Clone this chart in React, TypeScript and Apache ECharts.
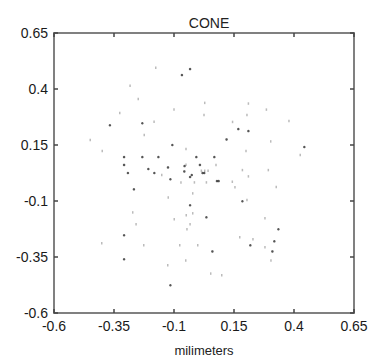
import React, { useEffect, useRef } from "react";
import * as echarts from "echarts";

const tickValues = [-0.6, -0.35, -0.1, 0.15, 0.4, 0.65];
const tickLabels = ["-0.6", "-0.35", "-0.1", "0.15", "0.4", "0.65"];

const darkPoints: [number, number][] = [
  [-0.033, 0.489], [-0.067, 0.462], [-0.367, 0.238], [-0.232, 0.247],
  [0.168, 0.221], [0.21, 0.212], [0.119, 0.175], [-0.107, 0.15],
  [0.443, 0.141], [-0.308, 0.096], [-0.232, 0.096], [-0.165, 0.096],
  [-0.007, 0.096], [0.068, 0.096], [-0.308, 0.061], [-0.125, 0.05],
  [-0.056, 0.056], [0.008, 0.061], [-0.292, 0.025], [-0.207, 0.043],
  [-0.182, 0.025], [-0.057, 0.032], [0.019, 0.025], [0.026, 0.025],
  [-0.026, 0.016], [-0.033, 0.007], [-0.115, -0.003], [0.079, -0.011],
  [0.086, -0.011], [-0.267, -0.048], [-0.033, -0.119], [0.185, -0.101],
  [0.035, -0.173], [0.335, -0.226], [-0.308, -0.253], [0.318, -0.28],
  [0.218, -0.298], [0.06, -0.325], [0.31, -0.325], [-0.308, -0.36],
  [-0.115, -0.476],
];

const lightPoints: [number, number][] = [
  [-0.176, 0.495], [-0.283, 0.415], [-0.249, 0.355], [-0.1, 0.309],
  [0.028, 0.338], [0.025, 0.284], [0.21, 0.335], [0.204, 0.284],
  [0.285, 0.308], [0.379, 0.257], [-0.326, 0.293], [-0.183, 0.254],
  [0.144, 0.253], [-0.224, 0.195], [-0.449, 0.172], [0.303, 0.166],
  [-0.399, 0.123], [-0.05, 0.132], [0.2, 0.123], [0.426, 0.105],
  [-0.05, 0.062], [0.075, 0.061], [-0.151, 0.016], [0.014, 0.035],
  [0.028, 0.035], [0.042, 0.035], [0.185, 0.038], [0.293, 0.038],
  [0.21, 0.01], [-0.071, -0.017], [-0.015, -0.017], [0.035, -0.017],
  [0.143, -0.014], [0.154, -0.039], [0.326, -0.037], [-0.022, -0.066],
  [-0.124, -0.084], [0.204, -0.096], [-0.272, -0.151], [-0.022, -0.155],
  [-0.049, -0.164], [-0.099, -0.182], [0.279, -0.177], [-0.258, -0.204],
  [-0.033, -0.204], [-0.046, -0.226], [0.174, -0.262], [0.229, -0.271],
  [-0.401, -0.289], [-0.226, -0.298], [-0.076, -0.298], [-0.001, -0.298],
  [0.279, -0.307], [-0.051, -0.366], [0.304, -0.366], [-0.126, -0.387],
  [0.053, -0.424], [0.099, -0.432],
];

const FONT = "'Liberation Sans', Arial, sans-serif";

function fmt(v: number): string {
  const i = tickValues.findIndex((t) => Math.abs(t - v) < 1e-9);
  return i >= 0 ? tickLabels[i] : "";
}

export default function App() {
  const ref = useRef<HTMLDivElement>(null);
  useEffect(() => {
    if (!ref.current) return;
    const chart = echarts.init(ref.current, undefined, { renderer: "svg" });
    const lineStyle = { color: "#808080", width: 2 };
    const tickStyle = { color: "#444", width: 1.5 };
    const baseAxis = {
      type: "value" as const,
      min: -0.6,
      max: 0.65,
      splitLine: { show: false },
      axisLine: { show: true, onZero: false, lineStyle },
      axisTick: { show: true, inside: true, length: 4, lineStyle: tickStyle, customValues: tickValues },
    };
    chart.setOption({
      animation: false,
      backgroundColor: "#ffffff",
      title: {
        text: "CONE",
        left: 204,
        top: 11,
        textAlign: "center",
        textStyle: { fontFamily: FONT, fontSize: 14, fontWeight: "normal", color: "#222" },
      },
      grid: { left: 54, right: 21, top: 33, bottom: 49, containLabel: false },
      xAxis: [
        {
          ...baseAxis,
          position: "bottom",
          name: "milimeters",
          nameLocation: "middle",
          nameGap: 31,
          nameTextStyle: { fontFamily: FONT, fontSize: 13, color: "#222" },
          axisLabel: {
            show: true,
            customValues: tickValues,
            formatter: fmt,
            margin: 6,
            fontFamily: FONT,
            fontSize: 14,
            color: "#1a1a1a",
          },
        },
        {
          ...baseAxis,
          position: "top",
          axisLabel: { show: false },
        },
      ],
      yAxis: [
        {
          ...baseAxis,
          position: "left",
          axisLabel: {
            show: true,
            customValues: tickValues,
            formatter: fmt,
            margin: 6,
            fontFamily: FONT,
            fontSize: 14,
            color: "#1a1a1a",
          },
        },
        {
          ...baseAxis,
          position: "right",
          axisLabel: { show: false },
        },
      ],
      series: [
        {
          type: "scatter",
          xAxisIndex: 0,
          yAxisIndex: 0,
          data: lightPoints,
          symbol: "rect",
          symbolSize: [1.5, 2.5],
          itemStyle: { color: "#aaaaaa" },
        },
        {
          type: "scatter",
          xAxisIndex: 0,
          yAxisIndex: 0,
          data: darkPoints,
          symbol: "circle",
          symbolSize: 2.5,
          itemStyle: { color: "#2a2a2a" },
        },
      ],
    });
    return () => chart.dispose();
  }, []);
  return (
    <div
      ref={ref}
      style={{ position: "fixed", left: 0, top: 0, width: 375, height: 362 }}
    />
  );
}
